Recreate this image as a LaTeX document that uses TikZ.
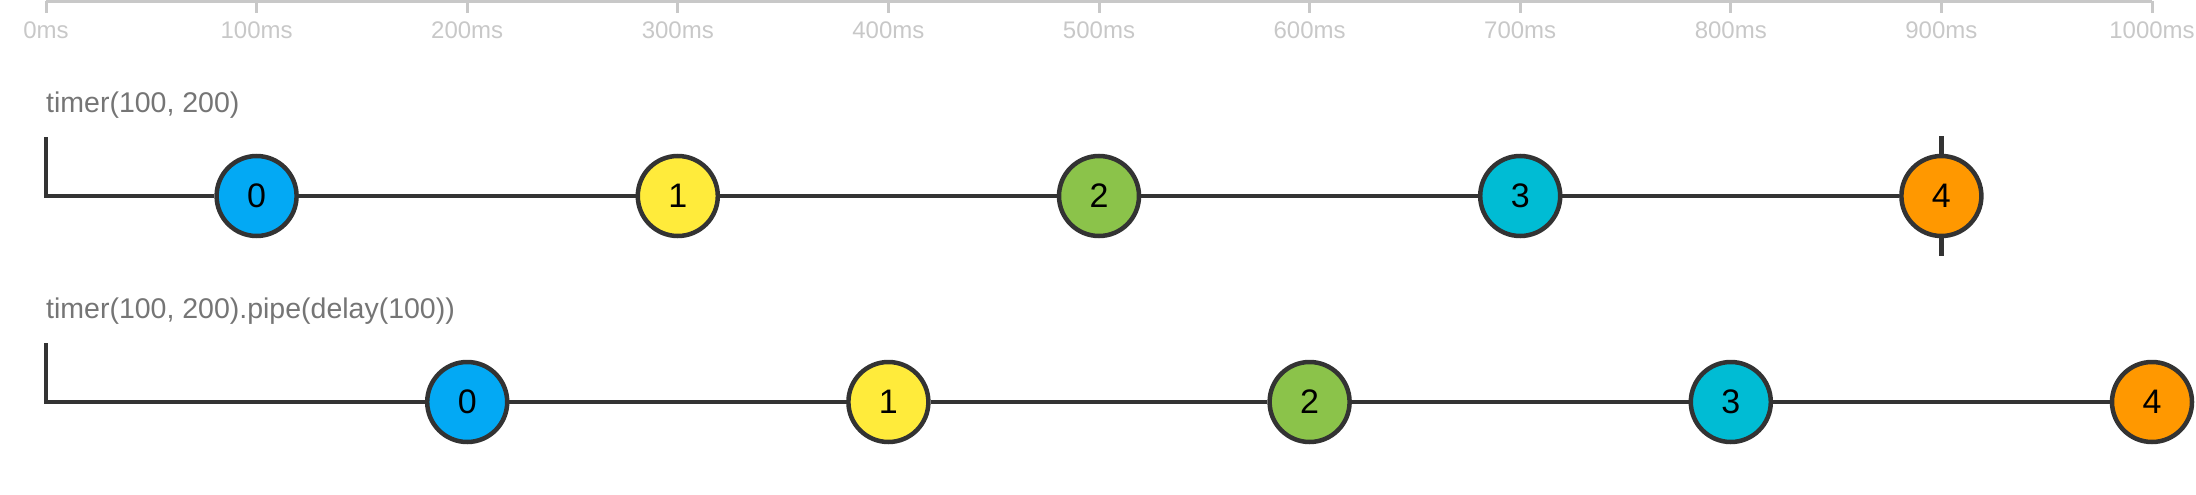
\documentclass[tikz,border=0pt]{standalone}
\usepackage{fontspec}
\setmainfont{Liberation Sans}
\usepackage{tikz}
\usetikzlibrary{positioning}

\definecolor{axisgray}{HTML}{C8C8C8}
\definecolor{titlegray}{HTML}{757575}
\definecolor{linedark}{HTML}{333333}
\definecolor{mblue}{HTML}{03A9F4}
\definecolor{myellow}{HTML}{FFEB3B}
\definecolor{mgreen}{HTML}{8BC34A}
\definecolor{mcyan}{HTML}{00BCD4}
\definecolor{morange}{HTML}{FF9800}

\tikzset{
	marble/.style={circle, draw=linedark, line width=4.5pt, minimum size=80pt, inner sep=0pt,
		font=\fontsize{34}{34}\selectfont, text=black},
	streamline/.style={draw=linedark, line width=4.5pt},
	tlabel/.style={anchor=base west, inner sep=0pt, text=titlegray, font=\fontsize{28.5}{30}\selectfont},
	mslabel/.style={anchor=base, inner sep=0pt, text=axisgray, font=\fontsize{24}{26}\selectfont}
}

\begin{document}
\begin{tikzpicture}[x=1pt,y=-1pt]
		\useasboundingbox (0,0) rectangle (2196,495);
		
		% time axis
		\draw[axisgray, line width=3pt] (46,1.5)--(2152,1.5);
		\foreach \t in {0,1,...,10}{
			\draw[axisgray, line width=3pt] (46+210.6*\t,1.5)--(46+210.6*\t,13);
			\pgfmathtruncatemacro{\ms}{100*\t}
			\node[mslabel] (ms\t) at (46+210.6*\t,39) {\ms ms};
		}
		
		% timer(100, 200)
		\node[tlabel] (titleA) at (46,113) {timer(100, 200)};
		\coordinate (atop) at (46,137);
		\coordinate (astart) at (46,196);
		\node[marble, fill=mblue] (a0) at (256.6,196) {0};
		\node[marble, fill=myellow] (a1) at (677.8,196) {1};
		\node[marble, fill=mgreen] (a2) at (1099,196) {2};
		\node[marble, fill=mcyan] (a3) at (1520.2,196) {3};
		\node[marble, fill=morange] (a4) at (1941.4,196) {4};
		\draw[streamline] (atop)--(astart)--(a0);
		\draw[streamline] (a0)--(a1);
		\draw[streamline] (a1)--(a2);
		\draw[streamline] (a2)--(a3);
		\draw[streamline] (a3)--(a4);
		\draw[streamline] (a4.north)--++(0,-18);
		\draw[streamline] (a4.south)--++(0,18);
		
		% timer(100, 200).pipe(delay(100))
		\node[tlabel] (titleB) at (46,318) {timer(100, 200).pipe(delay(100))};
		\coordinate (btop) at (46,343);
		\coordinate (bstart) at (46,402);
		\node[marble, fill=mblue] (b0) at (467.2,402) {0};
		\node[marble, fill=myellow] (b1) at (888.4,402) {1};
		\node[marble, fill=mgreen] (b2) at (1309.6,402) {2};
		\node[marble, fill=mcyan] (b3) at (1730.8,402) {3};
		\node[marble, fill=morange] (b4) at (2152,402) {4};
		\draw[streamline] (btop)--(bstart)--(b0);
		\draw[streamline] (b0)--(b1);
		\draw[streamline] (b1)--(b2);
		\draw[streamline] (b2)--(b3);
		\draw[streamline] (b3)--(b4);
\end{tikzpicture}
\end{document}
